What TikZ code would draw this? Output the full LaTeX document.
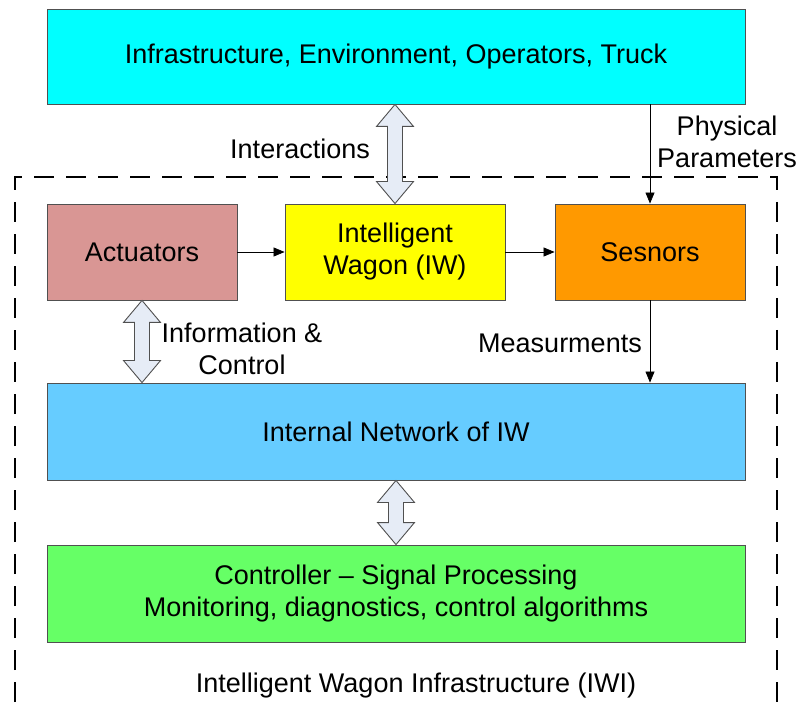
\documentclass[tikz,border=0pt]{standalone}
\usepackage{fontspec}
\setmainfont{Liberation Sans}
\usetikzlibrary{arrows.meta,calc}
\definecolor{cyanbox}{RGB}{0,255,255}
\definecolor{actbox}{RGB}{217,150,148}
\definecolor{iwbox}{RGB}{255,255,0}
\definecolor{senbox}{RGB}{255,153,0}
\definecolor{netbox}{RGB}{102,204,255}
\definecolor{ctlbox}{RGB}{102,255,102}
\definecolor{dblfill}{RGB}{230,236,246}
\definecolor{edge}{RGB}{80,80,80}
\tikzset{
  box/.style={draw=edge, line width=0.9pt, align=center, inner sep=0pt,
    font=\fontsize{27}{32}\selectfont},
  lbl/.style={align=center, inner sep=0pt, font=\fontsize{27}{32}\selectfont},
  arr/.style={-{Triangle[length=11pt,width=9pt]}, line width=0.7pt},
  dbl/.style={draw=edge, fill=dblfill, line width=0.9pt, line join=miter},
}
\newcommand\dblarr[2]{%
  \path[dbl] let \p1=(#1), \p2=(#2) in
    (\x1,\y1) -- (\x1+18.5pt,\y1-22pt) -- (\x1+7.5pt,\y1-22pt)
    -- (\x1+7.5pt,\y2+22pt) -- (\x1+18.5pt,\y2+22pt) -- (\x1,\y2)
    -- (\x1-18.5pt,\y2+22pt) -- (\x1-7.5pt,\y2+22pt)
    -- (\x1-7.5pt,\y1-22pt) -- (\x1-18.5pt,\y1-22pt) -- cycle;}
\begin{document}
\begin{tikzpicture}[x=1pt,y=1pt]
\useasboundingbox[fill=white] (0,0) rectangle (797,702);
% dashed frame (open at bottom)
\draw[line width=2.4pt, dash pattern=on 20pt off 12pt]
  (15,0) -- (15,525) -- (777,525) -- (777,0);
% boxes
\node[box, fill=cyanbox, minimum width=698pt, minimum height=95pt] (top) at (396,645.5)
  {Infrastructure, Environment, Operators, Truck};
\node[box, fill=actbox, minimum width=190pt, minimum height=96pt] (act) at (142,450) {Actuators};
\node[box, fill=iwbox, minimum width=220pt, minimum height=96pt] (iw) at (395,450) {Intelligent\\Wagon (IW)};
\node[box, fill=senbox, minimum width=190pt, minimum height=96pt] (sen) at (650,450) {Sesnors};
\node[box, fill=netbox, minimum width=698pt, minimum height=97pt] (net) at (396,270.5) {Internal Network of IW};
\node[box, fill=ctlbox, minimum width=698pt, minimum height=97pt] (ctl) at (396,108.5)
  {Controller -- Signal Processing\\Monitoring, diagnostics, control algorithms};
% connectors
\draw[arr] (act.east) -- (iw.west);
\draw[arr] (iw.east) -- (sen.west);
\coordinate (pp) at (top.south -| sen.north);
\draw[arr] (pp) -- (sen.north);
\coordinate (ms) at (net.north -| sen.south);
\draw[arr] (sen.south) -- (ms);
% double arrows
\coordinate (d1a) at (top.south -| iw.north);
\dblarr{d1a}{iw.north}
\coordinate (d2b) at (net.north -| act.south);
\dblarr{act.south}{d2b}
\coordinate (d3b) at (ctl.north -| net.south);
\dblarr{net.south}{d3b}
% labels
\node[lbl, anchor=east] (linter) at (370,553) {Interactions};
\node[lbl] (lphys) at (727,560.5) {Physical\\Parameters};
\node[lbl] (linfo) at (242,353) {Information \&\\Control};
\node[lbl] (lmeas) at (560,359) {Measurments};
\node[lbl] (liwi) at (416,16) {Intelligent Wagon Infrastructure (IWI)};
\end{tikzpicture}
\end{document}
